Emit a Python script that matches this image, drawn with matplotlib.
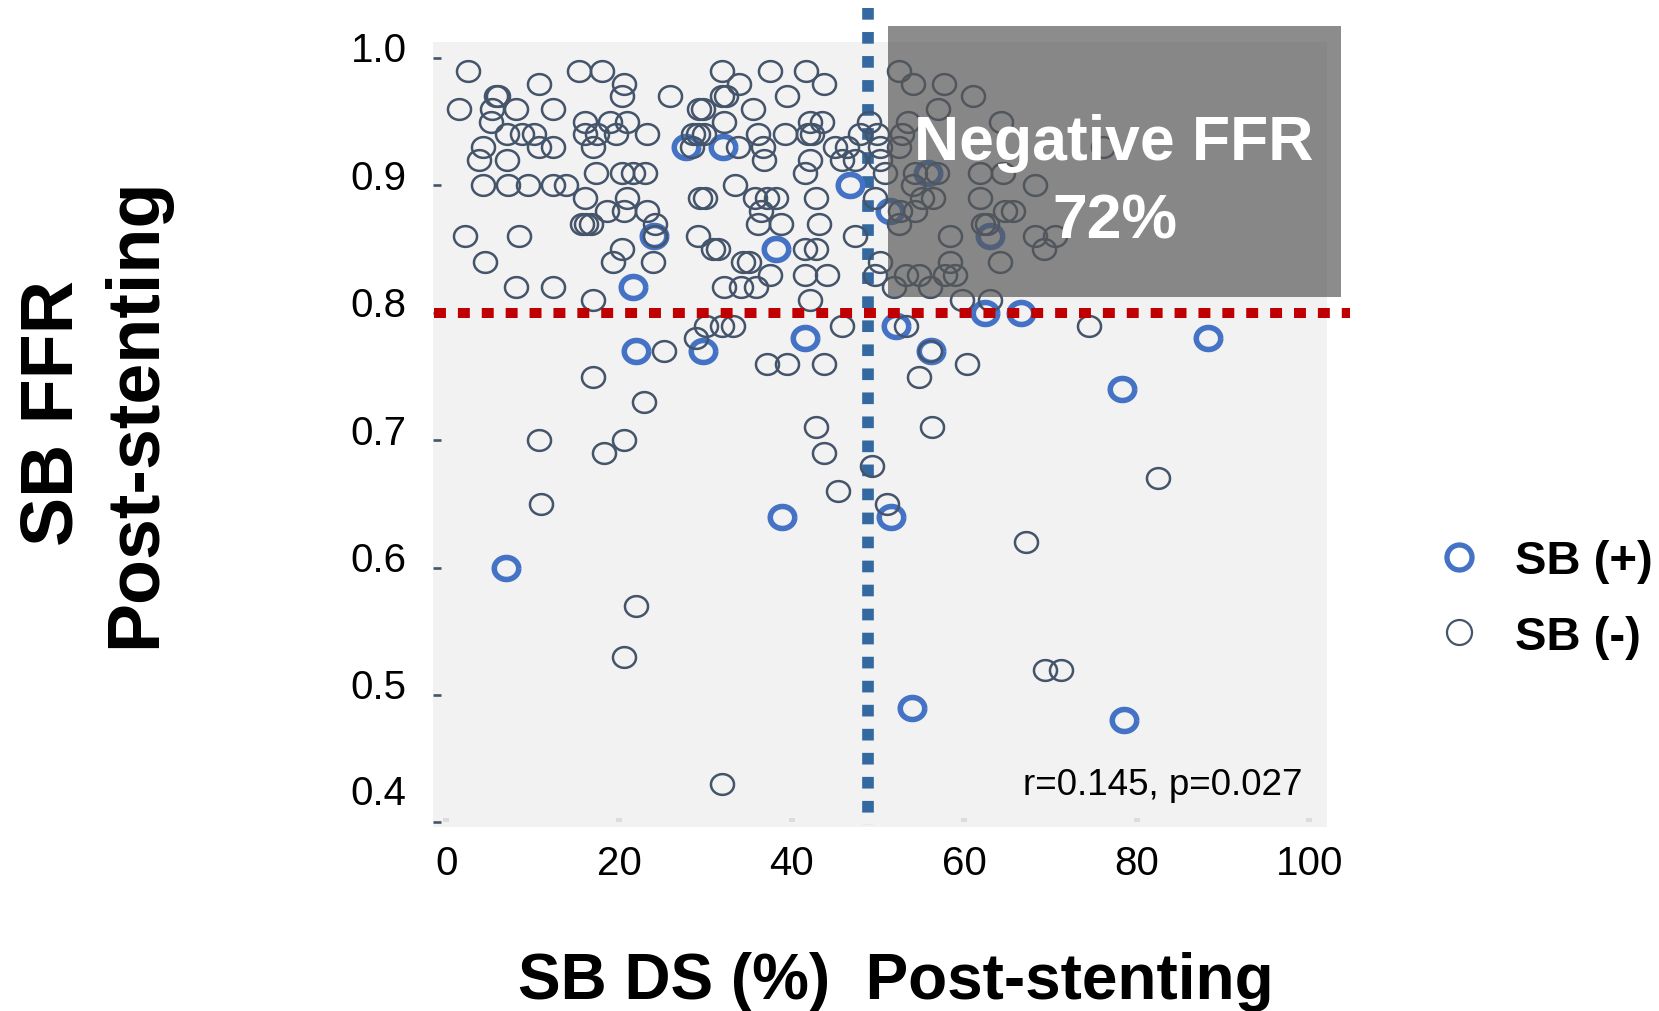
import matplotlib
matplotlib.use('Agg')
import matplotlib.pyplot as plt
import matplotlib.transforms as mtrans
from matplotlib.path import Path
from matplotlib.lines import Line2D
from matplotlib.patches import Rectangle
import numpy as np

plt.rcParams['font.family'] = ['Liberation Sans', 'DejaVu Sans']
plt.rcParams['lines.scale_dashes'] = False

# ---------------- data (SB DS %, SB FFR) ----------------
sb_pos = [
    (27.8, 0.93), (32.0, 0.93), (46.8, 0.90), (24.0, 0.86), (38.2, 0.85),
    (21.6, 0.82), (41.5, 0.78), (22.0, 0.77), (29.7, 0.77), (38.9, 0.64),
    (6.9, 0.60), (52.1, 0.79), (62.4, 0.80), (66.6, 0.80), (88.2, 0.78),
    (56.1, 0.77), (78.3, 0.74), (51.5, 0.64), (55.8, 0.91), (51.4, 0.88),
    (63.0, 0.86), (53.9, 0.49), (78.5, 0.48),
]

sb_neg = [
    (2.5, 0.99), (15.3, 0.99), (18.0, 0.99), (31.9, 0.99), (37.5, 0.99), (41.7, 0.99), (52.4, 0.99),
    (10.7, 0.98), (20.6, 0.98), (33.9, 0.98), (43.7, 0.98), (54.0, 0.98), (57.7, 0.98),
    (5.7, 0.97), (6.0, 0.97), (20.3, 0.97), (25.9, 0.97), (31.9, 0.97), (32.4, 0.97), (39.5, 0.97), (61.0, 0.97),
    (1.5, 0.96), (5.3, 0.96), (8.1, 0.96), (12.3, 0.96), (29.3, 0.96), (29.7, 0.96), (35.5, 0.96), (57.0, 0.96),
    (5.1, 0.95), (16.0, 0.95), (19.0, 0.95), (20.9, 0.95), (32.1, 0.95), (42.1, 0.95), (43.5, 0.95),
    (49.0, 0.95), (53.5, 0.95), (64.3, 0.95),
    (7.0, 0.94), (8.7, 0.94), (10.1, 0.94), (16.0, 0.94), (17.4, 0.94), (19.6, 0.94), (23.2, 0.94),
    (28.6, 0.94), (29.2, 0.94), (29.8, 0.94), (36.1, 0.94), (39.2, 0.94), (41.9, 0.94), (42.3, 0.94),
    (47.9, 0.94), (49.9, 0.94), (52.8, 0.94),
    (4.2, 0.93), (10.7, 0.93), (12.3, 0.93), (17.0, 0.93), (28.5, 0.93), (33.8, 0.93), (36.7, 0.93),
    (45.0, 0.93), (46.4, 0.93), (50.2, 0.93), (52.4, 0.93), (76.1, 0.93),
    (3.8, 0.92), (7.0, 0.92), (36.8, 0.92), (42.1, 0.92), (45.8, 0.92), (47.3, 0.92), (50.2, 0.92),
    (17.3, 0.91), (20.3, 0.91), (21.6, 0.91), (23.0, 0.91), (41.5, 0.91), (50.8, 0.91), (54.3, 0.91),
    (56.8, 0.91), (61.8, 0.91), (64.5, 0.91),
    (4.2, 0.90), (7.1, 0.90), (9.4, 0.90), (12.3, 0.90), (13.9, 0.90), (33.4, 0.90), (54.1, 0.90), (68.2, 0.90),
    (16.1, 0.89), (20.9, 0.89), (29.4, 0.89), (30.0, 0.89), (35.7, 0.89), (37.1, 0.89), (38.2, 0.89),
    (42.8, 0.89), (49.7, 0.89), (55.1, 0.89), (56.4, 0.89), (61.8, 0.89),
    (18.6, 0.88), (20.6, 0.88), (23.2, 0.88), (36.5, 0.88), (52.5, 0.88), (54.3, 0.88), (64.7, 0.88), (65.7, 0.88),
    (15.7, 0.87), (16.2, 0.87), (16.8, 0.87), (24.2, 0.87), (36.1, 0.87), (38.8, 0.87), (43.2, 0.87),
    (52.4, 0.87), (62.2, 0.87), (62.6, 0.87),
    (2.1, 0.86), (8.4, 0.86), (24.2, 0.86), (29.2, 0.86), (47.3, 0.86), (58.3, 0.86), (68.2, 0.86), (70.5, 0.86),
    (20.3, 0.85), (30.9, 0.85), (31.5, 0.85), (41.5, 0.85), (42.8, 0.85), (69.2, 0.85),
    (4.5, 0.84), (19.3, 0.84), (23.9, 0.84), (34.4, 0.84), (35.0, 0.84), (50.2, 0.84), (58.3, 0.84), (64.1, 0.84),
    (37.5, 0.83), (41.5, 0.83), (44.1, 0.83), (49.7, 0.83), (53.3, 0.83), (54.7, 0.83), (57.8, 0.83), (58.9, 0.83),
    (8.1, 0.82), (12.3, 0.82), (32.1, 0.82), (34.1, 0.82), (35.9, 0.82), (51.8, 0.82), (56.0, 0.82),
    (17.0, 0.81), (42.1, 0.81), (59.7, 0.81), (63.0, 0.81),
    (30.1, 0.79), (31.9, 0.79), (33.2, 0.79), (45.8, 0.79), (53.3, 0.79), (74.5, 0.79),
    (28.9, 0.78),
    (25.2, 0.77), (56.0, 0.77),
    (37.1, 0.76), (39.5, 0.76), (43.7, 0.76), (60.3, 0.76),
    (17.0, 0.75), (54.7, 0.75),
    (22.9, 0.73),
    (42.8, 0.71), (56.3, 0.71),
    (10.7, 0.70), (20.6, 0.70),
    (18.3, 0.69), (43.7, 0.69),
    (49.3, 0.68),
    (82.5, 0.67),
    (45.4, 0.66),
    (11.0, 0.65), (51.1, 0.65),
    (67.2, 0.62),
    (22.0, 0.57),
    (20.6, 0.53),
    (69.3, 0.52), (71.2, 0.52),
    (31.9, 0.43),
]

x_ticks = [0, 20, 40, 60, 80, 100]
y_ticks = [0.4, 0.5, 0.6, 0.7, 0.8, 0.9, 1.0]
y_tick_labels = ['0.4', '0.5', '0.6', '0.7', '0.8', '0.9', '1.0']
ffr_cut = 0.80
ds_cut = 48.8
neg_box = (51.2, 103.7, 0.8126, 1.0255)   # x0, x1, y0, y1
stat_text = 'r=0.145, p=0.027'
legend_labels = ['SB (+)', 'SB (-)']

# ---------------- figure ----------------
W, H = 1659, 1012
fig = plt.figure(figsize=(W / 100, H / 100), dpi=100)
ax_l, ax_r, ax_t, ax_b = 433, 1327, 43, 828
ax = fig.add_axes([ax_l / W, 1 - ax_b / H, (ax_r - ax_l) / W, (ax_b - ax_t) / H])
ax.set_facecolor('#F2F2F2')
for s in ax.spines.values():
    s.set_visible(False)
ax.set_xlim(-1.564, 102.03)
ax.set_ylim(0.3964, 1.0126)
ax.spines['bottom'].set_position(('data', 0.4))

# ellipse marker (slightly wider than tall)
th = np.linspace(0, 2 * np.pi, 73)
ell = Path(np.column_stack([np.cos(th), 0.9 * np.sin(th)]), closed=False)

px, py = zip(*sb_pos)
nx, ny = zip(*sb_neg)
DARK = '#44546A'
BLUE = '#4472C4'

# blue vertical dotted line (under markers)
ax.plot([ds_cut, ds_cut], [1.0396, 0.398], color='#3369A0', lw=8.4,
        dashes=(8.4, 8.9), dash_capstyle='butt', clip_on=False, zorder=1)

ax.plot(px, py, ls='none', marker=ell, ms=17.6, mfc='none', mec=BLUE, mew=4.0, zorder=2)
ax.plot(nx, ny, ls='none', marker=ell, ms=16.6, mfc='none', mec=DARK, mew=1.8, zorder=3)

# red dotted line
ax.plot([-1.45, 104.7], [ffr_cut, ffr_cut], color='#C00000', lw=7.2,
        dashes=(8.6, 8.6), dash_capstyle='butt', clip_on=False, zorder=5)

# grey translucent box
bx0, bx1, by0, by1 = neg_box
ax.add_patch(Rectangle((bx0, by0), bx1 - bx0, by1 - by0, facecolor='#585858',
                       alpha=0.69, edgecolor='none', clip_on=False, zorder=4))
ax.text(77.35, 0.9207, 'Negative FFR', color='white', fontsize=45, weight='bold',
        ha='center', va='baseline', zorder=6)
ax.text(77.5, 0.8593, '72%', color='white', fontsize=45, weight='bold',
        ha='center', va='baseline', zorder=6)

ax.text(99.2, 0.4223, stat_text, fontsize=26.5, color='black', ha='right', va='baseline', zorder=6)

# ticks
ax.set_xticks(x_ticks)
ax.set_xticklabels([str(v) for v in x_ticks])
ax.set_yticks(y_ticks)
ax.set_yticklabels(y_tick_labels)
ax.tick_params(axis='y', direction='in', length=5.8, width=1.9, color=DARK,
               pad=18.9, labelsize=29, labelcolor='black')
ax.tick_params(axis='x', direction='in', length=3.0, width=4.3, color='#DCDCDC',
               pad=15.3, labelsize=29, labelcolor='black')
for lab in ax.get_yticklabels():
    dy = 24 if lab.get_text() == '0.4' else 8.4
    lab.set_transform(lab.get_transform() + mtrans.ScaledTranslation(0, dy / 72, fig.dpi_scale_trans))

# axis titles
fig.text(895.6 / W, 1 - 999.3 / H, 'SB DS (%)  Post-stenting', fontsize=46, weight='bold',
         ha='center', va='baseline')
fig.text(73.9 / W, 1 - 412.6 / H, 'SB FFR', fontsize=53, weight='bold', rotation=90,
         rotation_mode='anchor', ha='center', va='baseline')
fig.text(155.5 / W, 1 - 412.6 / H, 'Post-stenting', fontsize=53, weight='bold', rotation=90,
         rotation_mode='anchor', ha='center', va='baseline')

# legend
handles = [
    Line2D([], [], ls='none', marker='o', ms=18, mfc='none', mec=BLUE, mew=3.8),
    Line2D([], [], ls='none', marker='o', ms=18, mfc='none', mec=DARK, mew=1.6),
]
fig.legend(handles, legend_labels, loc='center left', bbox_to_anchor=(1435.4 / W, 1 - 600 / H),
           bbox_transform=fig.transFigure, frameon=False, handlelength=1.0,
           handletextpad=0.69, labelspacing=0.67, borderpad=0, borderaxespad=0,
           prop={'size': 34, 'weight': 'bold'})

fig.savefig('out.png', dpi=100)
